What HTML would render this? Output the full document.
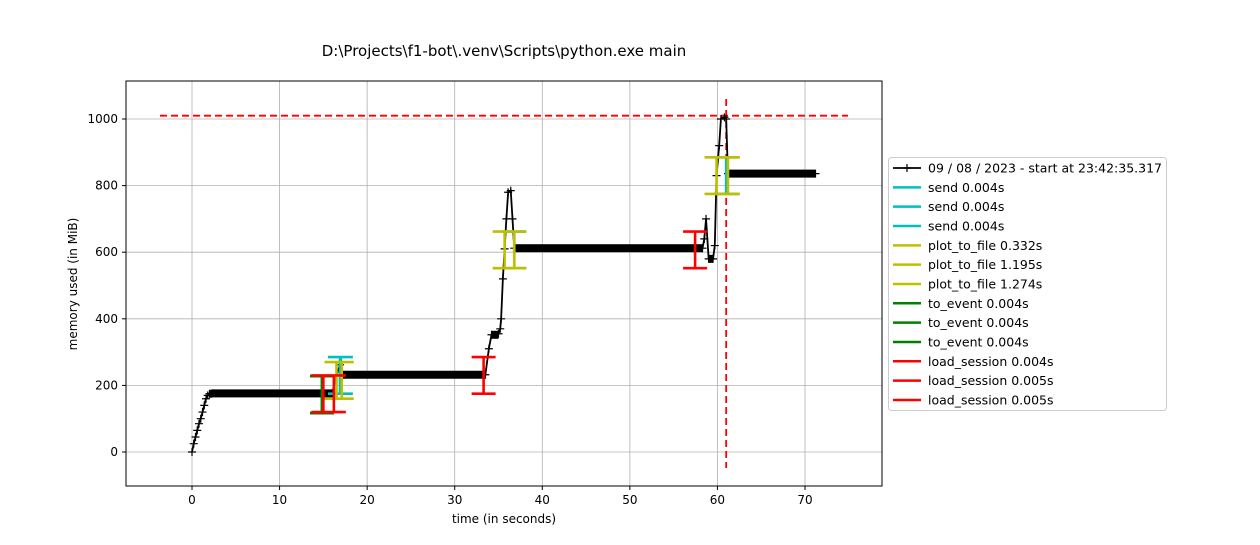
<!DOCTYPE html>
<html><head><meta charset="utf-8"><style>
body{margin:0;background:#fff;font-family:"Liberation Sans","DejaVu Sans",sans-serif}
svg text{font-family:"DejaVu Sans","Liberation Sans",sans-serif}
</style></head><body>
<svg id="chart" width="1260" height="540" viewBox="0 0 1260 540" xmlns="http://www.w3.org/2000/svg">
<rect width="1260" height="540" fill="#fff"/>
<text x="504" y="56" font-size="15" text-anchor="middle">D:\Projects\f1-bot\.venv\Scripts\python.exe main</text>
<g id="grid"></g><g id="marks"></g>
<rect x="126" y="81" width="756" height="405" fill="none" stroke="#000" stroke-width="1"/>
<g id="axes"></g>
<text x="504" y="523" font-size="12" text-anchor="middle">time (in seconds)</text>
<text x="77" y="284" font-size="12" text-anchor="middle" transform="rotate(-90 77 284)">memory used (in MiB)</text>
<g id="legend"></g>
</svg>
<script>
const xTicks=[0,10,20,30,40,50,60,70];
const yTicks=[0,200,400,600,800,1000];
const times=[0,0.2,0.4,0.6,0.8,1.0,1.2,1.4,1.6,1.8,2.0,2.3,16.0,16.5,16.9,17.2,33.5,33.9,34.2,35.0,35.2,35.3,35.5,35.7,35.9,36.1,36.4,36.6,36.8,58.3,58.5,58.7,59.0,59.5,59.7,59.9,60.2,60.4,60.8,61.0,61.2,71.2];
const mems=[0,25,45,65,85,100,120,140,160,170,175,176,176,230,262,232,232,310,352,355,370,400,520,610,700,780,785,700,612,612,640,700,580,580,620,830,920,1000,1005,1000,836,836];
const fnNames=["send 0.004s","send 0.004s","send 0.004s","plot_to_file 0.332s","plot_to_file 1.195s","plot_to_file 1.274s","to_event 0.004s","to_event 0.004s","to_event 0.004s","load_session 0.004s","load_session 0.005s","load_session 0.005s"];
const fnColors=["#00bfbf","#00bfbf","#00bfbf","#bfbf00","#bfbf00","#bfbf00","#008000","#008000","#008000","#ff0000","#ff0000","#ff0000"];
const fnStart=[16.9,36.8,61.0,16.5,35.7,59.9,14.85,14.85,14.85,15.0,33.3,57.45];
const fnEnd=[17.0,36.8,61.0,17.1,36.8,61.2,14.85,14.85,14.85,16.2,33.3,57.45];
const fnLo=[175,552,775,160,552,775,117,117,117,120,175,552];
const fnHi=[285,662,885,270,662,885,228,228,228,230,285,662];
const peakMem=1010, peakTime=61.0;
const NS="http://www.w3.org/2000/svg";
const X=t=>192+t*8.757, Y=m=>452-m*0.333;
function mk(tag,at,parent){const e=document.createElementNS(NS,tag);for(const k in at)e.setAttribute(k,at[k]);parent.appendChild(e);return e;}
const grid=document.getElementById('grid'),axes=document.getElementById('axes'),marks=document.getElementById('marks'),leg=document.getElementById('legend');
xTicks.forEach(t=>{const x=X(t);
 const g=mk('line',{x1:x,x2:x,y1:81,y2:486,stroke:'#b0b0b0','stroke-width':0.8},grid);
 
 mk('line',{x1:x,x2:x,y1:486,y2:490,stroke:'#000'},axes);
 const tx=mk('text',{x:x,y:504,'font-size':12,'text-anchor':'middle'},axes);tx.textContent=t;
 });
yTicks.forEach(m=>{const y=Y(m);
 const g=mk('line',{x1:126,x2:882,y1:y,y2:y,stroke:'#b0b0b0','stroke-width':0.8},grid);
 
 mk('line',{x1:122,x2:126,y1:y,y2:y,stroke:'#000'},axes);
 const tx=mk('text',{x:118,y:y+4,'font-size':12,'text-anchor':'end'},axes);tx.textContent=m;
 });
// peak lines
const ph=mk('line',{x1:160,x2:848,y1:Y(peakMem),y2:Y(peakMem),stroke:'red','stroke-width':1.8,'stroke-dasharray':'7,4'},marks);

const pv=mk('line',{x1:X(peakTime),x2:X(peakTime),y1:99,y2:468,stroke:'red','stroke-width':1.8,'stroke-dasharray':'7,4'},marks);

// memory line
const pts=times.map((t,i)=>X(t)+','+Y(mems[i])).join(' ');
const pl=mk('polyline',{points:pts,fill:'none',stroke:'#000','stroke-width':1.8},marks);

for(let i=0;i<times.length-1;i++){if(Math.abs(mems[i]-mems[i+1])<=3){
 const b=mk('rect',{x:X(times[i]),y:Y(mems[i])-4,width:X(times[i+1])-X(times[i]),height:8,fill:'#000'},marks);
 }}
times.forEach((t,i)=>{const x=X(t),y=Y(mems[i]);
 const p=mk('path',{d:`M${x-4},${y}H${x+4}M${x},${y-4}V${y+4}`,stroke:'#000','stroke-width':1.2},marks);
 });
// function brackets
fnNames.forEach((n,i)=>{const g=mk('g',{stroke:fnColors[i],'stroke-width':2.6,fill:'none'},marks);
 
 const x0=X(fnStart[i]),x1=X(fnEnd[i]),lo=Y(fnLo[i]),hi=Y(fnHi[i]),w=12;
 mk('path',{d:`M${x0-w},${hi}H${x1+w}M${x0-w},${lo}H${x1+w}M${x0},${hi}V${lo}M${x1},${hi}V${lo}`},g);});
// legend
const lb=mk('rect',{x:888.5,y:157.5,width:278,height:253,fill:'#fff',stroke:'#ccc',rx:3},leg);

const labels=["09 / 08 / 2023 - start at 23:42:35.317"].concat(fnNames);
const cols=["#000"].concat(fnColors);
labels.forEach((l,i)=>{const y=168+i*19.33;
 const g=mk('g',{},leg);
 mk('line',{x1:893,x2:921,y1:y,y2:y,stroke:cols[i],'stroke-width':i?2.5:1.8},g);
 if(!i)mk('path',{d:`M903,${y}h8M907,${y-4}v8`,stroke:'#000','stroke-width':1.2},g);
 const t=mk('text',{x:928,y:y+4.5,'font-size':12.5},g);t.textContent=l;});
</script>
</body></html>
